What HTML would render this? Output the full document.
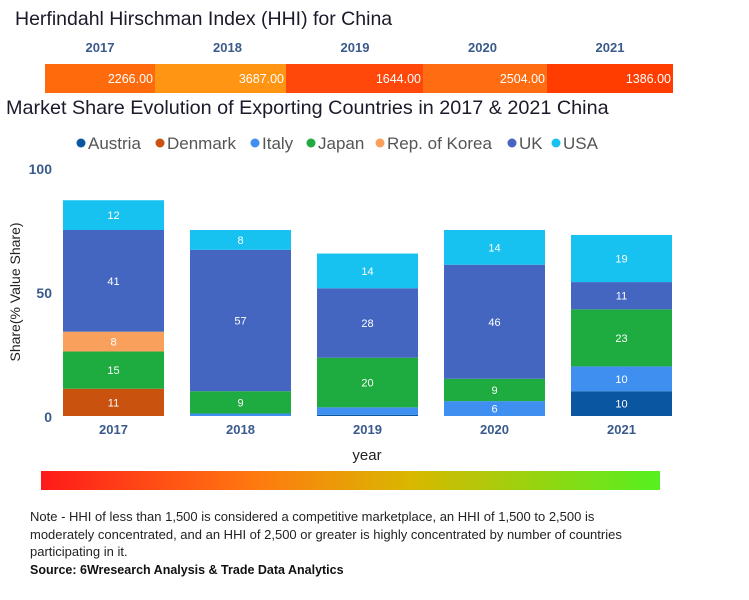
<!DOCTYPE html>
<html><head><meta charset="utf-8"><style>
body{margin:0;width:749px;height:600px;background:#fff;font-family:"Liberation Sans",sans-serif;overflow:hidden;position:relative}
.t{position:absolute;white-space:nowrap}
</style></head><body>
<div class="t" style="left:15px;top:8px;font-size:19.5px;color:#1a1a2a">Herfindahl Hirschman Index (HHI) for China</div>
<svg id="hhi" width="749" height="100" style="position:absolute;left:0;top:0"></svg>
<div class="t" style="left:6px;top:97px;font-size:19.8px;color:#1a1a2a">Market Share Evolution of Exporting Countries in 2017 &amp; 2021 China</div>
<svg id="chart" width="749" height="470" style="position:absolute;left:0;top:125px"></svg>
<div style="position:absolute;left:41px;top:471px;width:619px;height:19px;background:linear-gradient(90deg,#ff1a1a 0%,#ff7a10 35%,#d8b800 60%,#55f020 100%)"></div>
<div class="t" style="left:30px;top:508px;font-size:13px;line-height:17.5px;color:#222;white-space:normal;width:615px">Note - HHI of less than 1,500 is considered a competitive marketplace, an HHI of 1,500 to 2,500 is moderately concentrated, and an HHI of 2,500 or greater is highly concentrated by number of countries participating in it.</div>
<div class="t" style="left:30px;top:563px;font-size:12.5px;font-weight:bold;color:#111">Source: 6Wresearch Analysis &amp; Trade Data Analytics</div>
<script>
const years=["2017","2018","2019","2020","2021"];
const hhiValues=[2266,3687,1644,2504,1386];
const hhiColors=["#ff6a0d","#ff9512","#ff480a","#ff6c12","#ff3d00"];
const seriesNames=["Austria","Denmark","Italy","Japan","Rep. of Korea","UK","USA"];
const seriesColors=["#0b56a0","#c9520f","#3f8ff0","#1eab40","#f9a05c","#4466c0","#17c2f0"];
const austria=[0,0,0.5,0,10];
const denmark=[11,0,0,0,0];
const italy=[0,1,3,6,10];
const japan=[15,9,20,9,23];
const korea=[8,0,0,0,0];
const uk=[41,57,28,46,11];
const usa=[12,8,14,14,19];
const yTicks=[0,50,100];
const NS="http://www.w3.org/2000/svg";
function mk(p,tag,at){const e=document.createElementNS(NS,tag);for(const k in at)e.setAttribute(k,at[k]);p.appendChild(e);return e;}
const hhi=document.getElementById('hhi');
const hx=[45,155,286,423,547,673];
hhiValues.forEach((v,i)=>{
 const x0=hx[i],x1=hx[i+1];
 const r=mk(hhi,'rect',{x:x0,y:64,width:x1-x0,height:29,fill:hhiColors[i]});
 
 
 const t=mk(hhi,'text',{x:x1-2,y:83,'text-anchor':'end','font-size':12.5,fill:'#fff','font-family':'Liberation Sans'});
 t.textContent=v.toFixed(2);
 
 
 const yl=mk(hhi,'text',{x:100+127.5*i,y:52,'text-anchor':'middle','font-size':13,'font-weight':'bold',fill:'#3a5a8c','font-family':'Liberation Sans'});
 yl.textContent=years[i];
 
 
});
const c=document.getElementById('chart');
const OFF=125;
const y0=416-OFF,pxPer=2.48;
const yS=v=>y0-v*pxPer;
const xS=i=>63+127*i;
const bw=101;
const lxs=[76,155,250,306,375,507,551];
seriesNames.forEach((n,i)=>{
 const lx=lxs[i];
 const g=mk(c,'g',{});
 
 
 mk(g,'circle',{cx:lx+5,cy:18,r:4.5,fill:seriesColors[i]});
 const t=mk(g,'text',{x:lx+12,y:24,'font-size':17,fill:'#555','font-family':'Liberation Sans'});
 t.textContent=n;
});
yTicks.forEach(v=>{
 const t=mk(c,'text',{x:52,y:yS(v)+6,'text-anchor':'end','font-size':14,'font-weight':'bold',fill:'#3a5a8c','font-family':'Liberation Sans'});
 t.textContent=v;
 
 
});
const yt=mk(c,'text',{x:0,y:0,transform:`translate(20,${yS(50)}) rotate(-90)`,'text-anchor':'middle','font-size':14,fill:'#222','font-family':'Liberation Sans'});
yt.textContent='Share(% Value Share)';


const xt=mk(c,'text',{x:367,y:455-OFF+5,'text-anchor':'middle','font-size':15,fill:'#222','font-family':'Liberation Sans'});
xt.textContent='year';


const series=[austria,denmark,italy,japan,korea,uk,usa];
years.forEach((yr,i)=>{
 let acc=0;
 series.forEach((s,k)=>{
  const v=s[i]; if(!v) return;
  const r=mk(c,'rect',{x:xS(i),y:yS(acc+v),width:bw,height:v*pxPer,fill:seriesColors[k]});
  
  
  if(v>=5){
   const t=mk(c,'text',{x:xS(i)+bw/2,y:yS(acc+v/2)+4,'text-anchor':'middle','font-size':11,fill:'#fff','font-family':'Liberation Sans'});
   t.textContent=v;
   
   
  }
  acc+=v;
 });
 const xl=mk(c,'text',{x:xS(i)+bw/2,y:yS(0)+18,'text-anchor':'middle','font-size':13,'font-weight':'bold',fill:'#3a5a8c','font-family':'Liberation Sans'});
 xl.textContent=yr;
 
 
});
</script>
</body></html>
